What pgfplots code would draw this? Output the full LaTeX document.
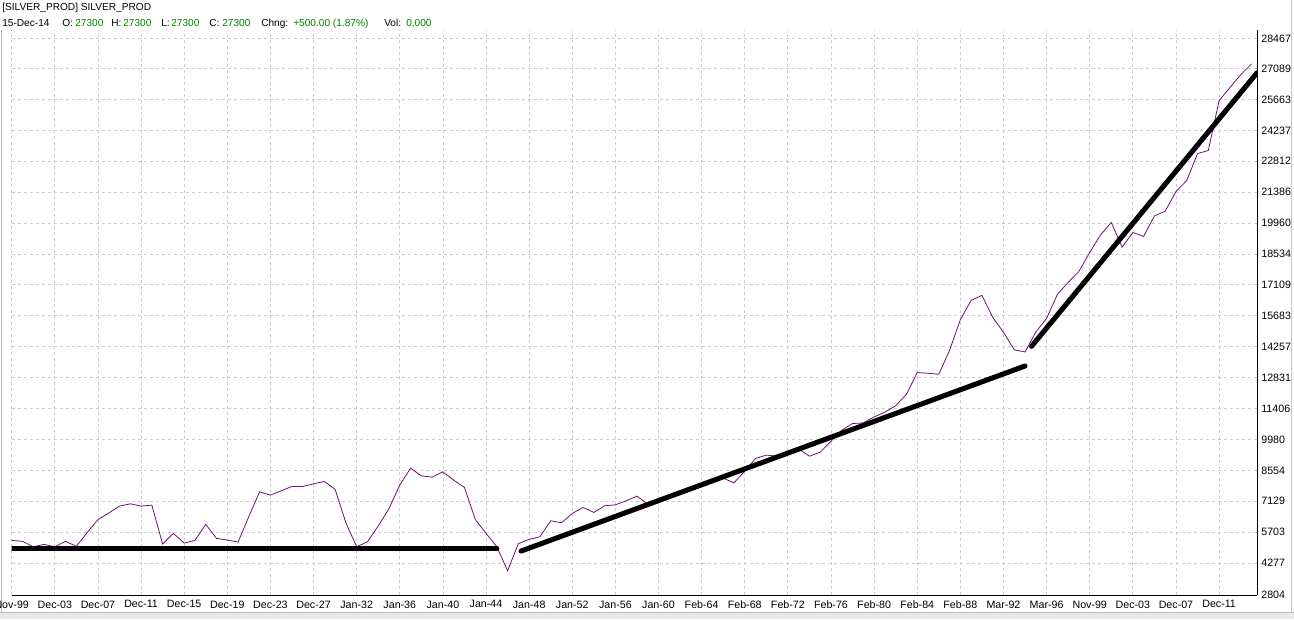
\documentclass[border=0pt]{standalone}
\usepackage{fontspec}
\setmainfont{Liberation Sans}
\usepackage{pgfplots}
\usepackage{pgfplotstable}
\pgfplotsset{compat=1.18}
\definecolor{silv}{RGB}{110,20,110}
\definecolor{grn}{RGB}{0,128,0}
\definecolor{gridc}{RGB}{205,205,205}

% yearly closes, k = 0 (Nov-99) ... 115 (15-Dec-14)
\pgfplotstableread{
k v
0 5324
1 5278
2 5029
3 5140
4 5029
5 5278
6 5048
7 5683
8 6282
9 6582
10 6904
11 7010
12 6904
13 6950
14 5154
15 5647
16 5200
17 5324
18 6061
19 5416
20 5338
21 5246
22 6430
23 7563
24 7411
25 7609
26 7812
27 7812
28 7932
29 8042
30 7674
31 6135
32 5029
33 5260
34 5983
35 6794
36 7872
37 8655
38 8300
39 8240
40 8484
41 8102
42 7766
43 6291
44 5651
45 5029
46 3923
47 5177
48 5370
49 5490
50 6227
51 6135
52 6568
53 6844
54 6614
55 6918
56 6964
57 7148
58 7365
59 6996
60 7158
61 7320
62 7503
63 7687
64 7793
65 8010
66 8194
67 7978
68 8517
69 9102
70 9254
71 9208
72 9406
73 9530
74 9208
75 9392
76 9899
77 10406
78 10714
79 10742
80 11018
81 11235
82 11534
83 12064
84 13064
85 13032
86 12985
87 14091
88 15506
89 16395
90 16625
91 15611
92 14920
93 14114
94 14013
95 14934
96 15565
97 16671
98 17224
99 17731
100 18606
101 19412
102 19988
103 18850
104 19527
105 19343
106 20288
107 20509
108 21416
109 21923
110 23167
111 23305
112 25609
113 26208
114 26800
115 27300
}\silver

\begin{document}
\begin{tikzpicture}[x=0.75pt,y=0.75pt]
\path[use as bounding box] (0,0) rectangle (1294,619);
% window borders
\fill[gray!18] (0,0) rectangle (1294,7);
\draw[gray!55, line width=0.75pt] (0,7) -- (1294,7);
\draw[gray!55, line width=0.75pt] (1,7) -- (1,589);
\draw[gray!45, line width=0.75pt] (1291,7) -- (1291,619);

% header
\begin{scope}[every node/.style={anchor=base west, inner sep=0pt, font=\fontsize{7.6}{9}\selectfont}]
\node at (2,608) {[SILVER\_PROD] SILVER\_PROD};
\node at (2,592.5) {15-Dec-14};
\node at (62,592.5) {O:};
\node[text=grn] at (75,592.5) {27300};
\node at (111,592.5) {H:};
\node[text=grn] at (123,592.5) {27300};
\node at (161,592.5) {L:};
\node[text=grn] at (171,592.5) {27300};
\node at (209,592.5) {C:};
\node[text=grn] at (222,592.5) {27300};
\node at (261,592.5) {Chng:};
\node[text=grn] at (293,592.5) {+500.00 (1.87\%)};
\node at (384,592.5) {Vol:};
\node[text=grn] at (406,592.5) {0,000};
\end{scope}

\begin{axis}[
  at={(8.775pt,18pt)}, anchor=south west,
  scale only axis, width=934pt, height=424pt,
  xmin=0, xmax=115.52, ymin=2804, ymax=28880,
  scaled ticks=false,
  axis x line*=bottom, axis y line*=right,
  axis line style={black, line width=0.75pt},
  xtick={0,4,...,112},
  xticklabels={Nov-99,Dec-03,Dec-07,Dec-11,Dec-15,Dec-19,Dec-23,Dec-27,Jan-32,Jan-36,Jan-40,Jan-44,Jan-48,Jan-52,Jan-56,Jan-60,Feb-64,Feb-68,Feb-72,Feb-76,Feb-80,Feb-84,Feb-88,Mar-92,Mar-96,Nov-99,Dec-03,Dec-07,Dec-11},
  ytick={2804,4277,5703,7129,8554,9980,11406,12831,14257,15683,17109,18534,19960,21386,22812,24237,25663,27089,28467},
  yticklabels={2804,4277,5703,7129,8554,9980,11406,12831,14257,15683,17109,18534,19960,21386,22812,24237,25663,27089,28467},
  major tick length=0pt,
  grid=major,
  major grid style={gridc, dash pattern=on 2.25pt off 2.25pt, line width=0.6pt},
  ticklabel style={font=\fontsize{8}{9}\selectfont, inner sep=0pt},
  xticklabel style={anchor=north, yshift=-4pt},
  yticklabel style={anchor=west, xshift=3pt},
]
\addplot[silv, line width=0.6pt] table[x=k, y=v] {\silver};
\addplot[black, line width=3.8pt, line cap=round] coordinates {(0,4969) (45,4969)};
\addplot[black, line width=3.8pt, line cap=round] coordinates {(47.25,4831) (94,13368)};
\addplot[black, line width=3.8pt, line cap=round] coordinates {(94.6,14275) (115.52,26890)};
\end{axis}
\end{tikzpicture}
\end{document}
